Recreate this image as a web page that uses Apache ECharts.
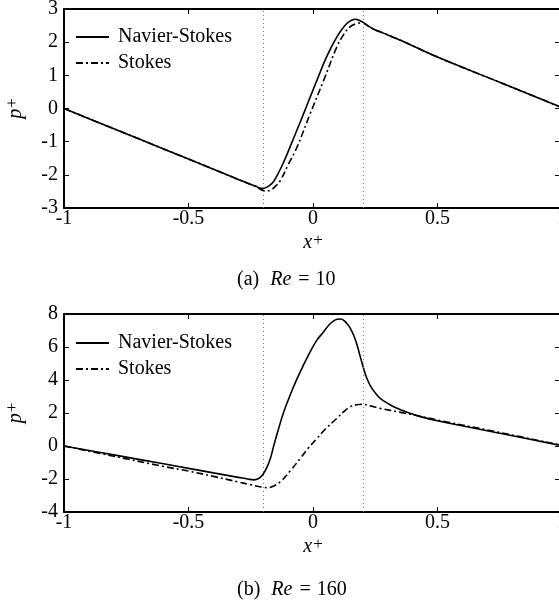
<!DOCTYPE html>
<html><head><meta charset="utf-8">
<script src="https://cdn.jsdelivr.net/npm/echarts@6/dist/echarts.min.js"></script>
<style>html,body{margin:0;padding:0;background:#fff}#c{width:559px;height:602px}</style>
</head><body><div id="c"></div>
<script>
// ---- data ----
const xTicks = [-1, -0.5, 0, 0.5, 1];
const yTicksA = [-3, -2, -1, 0, 1, 2, 3];
const yTicksB = [-4, -2, 0, 2, 4, 6, 8];
const guideX = [-0.2, 0.2];
const seriesNames = ['Navier-Stokes', 'Stokes'];
const captionA = ['(a)', 'Re', '=', '10'];
const captionB = ['(b)', 'Re', '=', '160'];

// (a) Re = 10
const nsA_x = [-1, -0.8, -0.6, -0.4, -0.3, -0.25, -0.23, -0.215, -0.2, -0.185, -0.17, -0.158, -0.14, -0.118, -0.09, -0.064, -0.04, -0.011, 0.02, 0.043, 0.07, 0.096, 0.117, 0.137, 0.155, 0.17, 0.185, 0.203, 0.22, 0.244, 0.28, 0.351, 0.5, 0.75, 1.0];
const nsA_p = [0, -0.61, -1.22, -1.83, -2.14, -2.29, -2.34, -2.40, -2.41, -2.37, -2.29, -2.20, -1.96, -1.62, -1.12, -0.64, -0.20, 0.35, 0.93, 1.36, 1.80, 2.16, 2.40, 2.57, 2.66, 2.69, 2.66, 2.59, 2.50, 2.39, 2.28, 2.06, 1.55, 0.79, 0.03];
const stA_x = [-1, -0.8, -0.6, -0.4, -0.3, -0.25, -0.22, -0.2, -0.185, -0.17, -0.15, -0.131, -0.1, -0.064, -0.011, 0.043, 0.096, 0.125, 0.15, 0.175, 0.19, 0.205, 0.225, 0.244, 0.28, 0.351, 0.5, 0.75, 1.0];
const stA_p = [0, -0.61, -1.22, -1.83, -2.14, -2.29, -2.40, -2.47, -2.49, -2.46, -2.34, -2.17, -1.70, -1.16, -0.15, 0.85, 1.86, 2.25, 2.47, 2.56, 2.58, 2.56, 2.47, 2.39, 2.28, 2.06, 1.55, 0.79, 0.03];

// (b) Re = 160
const nsB_x = [-1, -0.8, -0.6, -0.4, -0.3, -0.26, -0.239, -0.225, -0.212, -0.2, -0.185, -0.17, -0.158, -0.14, -0.118, -0.09, -0.064, -0.04, -0.011, 0.015, 0.043, 0.065, 0.083, 0.097, 0.11, 0.125, 0.14, 0.15, 0.165, 0.177, 0.19, 0.203, 0.215, 0.23, 0.25, 0.27, 0.3, 0.324, 0.378, 0.431, 0.5, 0.75, 1.0];
const nsB_p = [0, -0.54, -1.08, -1.63, -1.90, -2.01, -2.05, -2.02, -1.90, -1.70, -1.30, -0.70, 0.00, 0.95, 2.05, 3.15, 4.08, 4.85, 5.72, 6.40, 6.93, 7.35, 7.58, 7.68, 7.70, 7.60, 7.35, 7.13, 6.65, 6.12, 5.40, 4.71, 4.15, 3.66, 3.22, 2.89, 2.58, 2.38, 2.04, 1.78, 1.53, 0.77, 0.02];
const stB_x = [-1, -0.8, -0.6, -0.5, -0.4, -0.3, -0.25, -0.22, -0.2, -0.185, -0.165, -0.131, -0.09, -0.051, -0.02, 0.016, 0.05, 0.096, 0.125, 0.15, 0.175, 0.197, 0.23, 0.27, 0.351, 0.431, 0.5, 0.75, 1.0];
const stB_p = [0, -0.62, -1.24, -1.52, -1.84, -2.18, -2.35, -2.45, -2.50, -2.52, -2.47, -2.16, -1.48, -0.75, -0.15, 0.46, 1.03, 1.68, 2.10, 2.38, 2.50, 2.53, 2.43, 2.28, 2.04, 1.80, 1.57, 0.82, 0.04];

// ---- chart ----
const FONT = 'Liberation Serif';
const zip = (xs, ys) => xs.map((x, i) => [x, ys[i]]);
const chart = echarts.init(document.getElementById('c'), null, {renderer: 'canvas'});

const grids = [
  {left: 64, top: 9, width: 498, height: 199, containLabel: false, outerBoundsMode: 'none'},
  {left: 64, top: 314, width: 498, height: 198, containLabel: false, outerBoundsMode: 'none'}
];
const lbl = {fontFamily: FONT, fontSize: 20, color: '#000'};
const axLine = {show: true, onZero: false, lineStyle: {color: '#000', width: 2}};
const richName = {
  i: {fontFamily: FONT, fontSize: 20, fontStyle: 'italic', color: '#000', lineHeight: 22},
  s: {fontFamily: FONT, fontSize: 17, color: '#000', verticalAlign: 'top', lineHeight: 22, padding: [0, 0, 9, 1]}
};

function xAxes(gi) {
  return [
    {type: 'value', gridIndex: gi, position: 'bottom', min: xTicks[0], max: xTicks[xTicks.length - 1], interval: 0.5,
     axisLine: axLine, axisTick: {inside: true, length: 5, lineStyle: {color: '#000', width: 1}},
     axisLabel: Object.assign({margin: 1, showMaxLabel: true, showMinLabel: true, hideOverlap: false}, lbl),
     splitLine: {show: false},
     name: '{i|x}{s|+}', nameLocation: 'middle', nameGap: 24,
     nameTextStyle: {rich: richName}},
    {type: 'value', gridIndex: gi, position: 'top', min: xTicks[0], max: xTicks[xTicks.length - 1], interval: 0.5,
     axisLine: axLine, axisTick: {inside: true, length: 5, lineStyle: {color: '#000', width: 1}},
     axisLabel: {show: false}, splitLine: {show: false}}
  ];
}
function yAxes(gi, mn, mx, iv) {
  return [
    {type: 'value', gridIndex: gi, position: 'left', min: mn, max: mx, interval: iv,
     axisLine: axLine, axisTick: {inside: true, length: 5, lineStyle: {color: '#000', width: 1}},
     axisLabel: Object.assign({margin: 6}, lbl), splitLine: {show: false},
     name: '{i|p}{s|+}', nameLocation: 'middle', nameGap: 34, nameRotate: 90,
     nameTextStyle: {rich: richName}},
    {type: 'value', gridIndex: gi, position: 'right', min: mn, max: mx, interval: iv,
     axisLine: axLine, axisTick: {inside: true, length: 7, lineStyle: {color: '#000', width: 1}},
     axisLabel: {show: false}, splitLine: {show: false}}
  ];
}

const guide = {
  silent: true, symbol: 'none', animation: false,
  label: {show: false},
  lineStyle: {type: [1, 3], color: '#777', width: 1},
  data: guideX.map(v => ({xAxis: v}))
};
const solid = {color: '#000', width: 1.6, type: 'solid'};
const dashdot = {color: '#000', width: 1.6, type: [7, 3, 2, 3]};
function mk(name, data, xi, yi, style, withGuide) {
  const s = {name, type: 'line', xAxisIndex: xi, yAxisIndex: yi, data, showSymbol: false, symbol: 'none',
    smooth: 0.4, lineStyle: style, itemStyle: {color: '#000'}, animation: false, z: 3};
  if (withGuide) s.markLine = guide;
  return s;
}

function legend(top) {
  return {show: true, orient: 'vertical', left: 75, top: top, padding: 0, itemGap: 4,
    itemWidth: 33, itemHeight: 14, data: seriesNames,
    itemStyle: {color: 'transparent', borderColor: 'transparent', borderWidth: 0, opacity: 0},
    textStyle: {fontFamily: FONT, fontSize: 20, color: '#000', lineHeight: 22, padding: [0, 0, 0, 4]},
    selectedMode: false};
}

const capRich = {
  n: {fontFamily: FONT, fontSize: 20, fontWeight: 'normal', color: '#000'},
  i: {fontFamily: FONT, fontSize: 20, fontWeight: 'normal', fontStyle: 'italic', color: '#000', padding: [0, 0, 0, 11]},
  e: {fontFamily: FONT, fontSize: 20, fontWeight: 'normal', color: '#000', padding: [0, 6, 0, 7]}
};
function caption(c, top) {
  return {text: '{n|' + c[0] + '}{i|' + c[1] + '}{e|' + c[2] + '}{n|' + c[3] + '}', left: 237, top: top, padding: 0,
    textStyle: {fontWeight: 'normal', rich: capRich}};
}

chart.setOption({
  backgroundColor: '#fff',
  animation: false,
  title: [caption(captionA, 270), caption(captionB, 580)],
  legend: [legend(26), legend(332)],
  grid: grids,
  xAxis: [...xAxes(0), ...xAxes(1)],
  yAxis: [...yAxes(0, yTicksA[0], yTicksA[yTicksA.length - 1], 1), ...yAxes(1, yTicksB[0], yTicksB[yTicksB.length - 1], 2)],
  series: [
    mk(seriesNames[0], zip(nsA_x, nsA_p), 0, 0, solid, true),
    mk(seriesNames[1], zip(stA_x, stA_p), 0, 0, dashdot, false),
    mk(seriesNames[0], zip(nsB_x, nsB_p), 2, 2, solid, true),
    mk(seriesNames[1], zip(stB_x, stB_p), 2, 2, dashdot, false)
  ]
});
</script>
</body></html>
